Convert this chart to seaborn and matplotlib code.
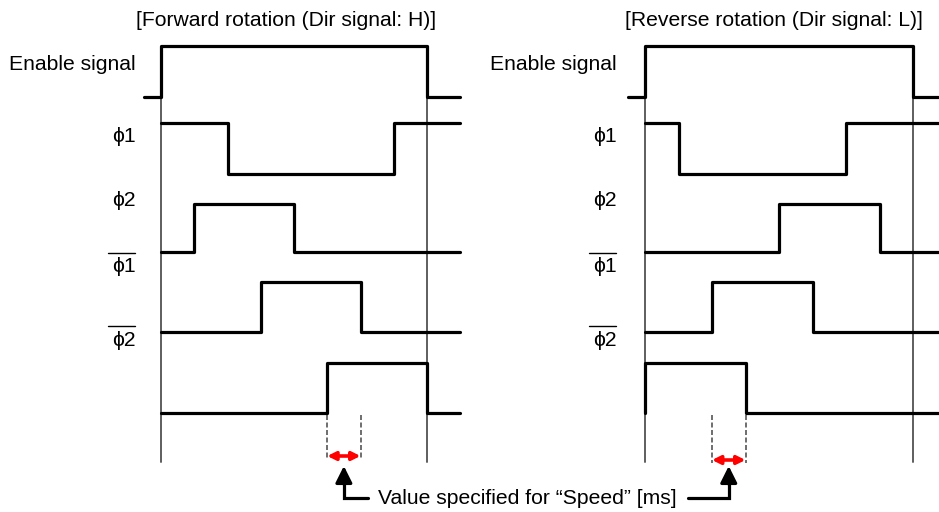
import seaborn as sns
import matplotlib.pyplot as plt

# timing data (time in steps, level 0 = low / 1 = high)
row_names = ["Enable signal", "\u03d51", "\u03d52", "\u03d51", "\u03d52"]
row_bar = [False, False, False, True, True]

fwd_title = "[Forward rotation (Dir signal: H)]"
fwd_t = [
    [-0.5, 0, 8, 9.0],
    [0, 2, 7, 9.0],
    [0, 1, 4, 9.0],
    [0, 3, 6, 9.0],
    [0, 5, 8, 9.0],
]
fwd_lvl = [
    [0, 1, 0, 0],
    [1, 0, 1, 1],
    [0, 1, 0, 0],
    [0, 1, 0, 0],
    [0, 1, 0, 0],
]
fwd_speed = [5, 6]

rev_title = "[Reverse rotation (Dir signal: L)]"
rev_t = [
    [-0.5, 0, 8, 8.8],
    [0, 1, 6, 8.8],
    [0, 4, 7, 8.8],
    [0, 2, 5, 8.8],
    [0, 0, 3, 8.8],
]
rev_lvl = [
    [0, 1, 0, 0],
    [1, 0, 1, 1],
    [0, 1, 0, 0],
    [0, 1, 0, 0],
    [0, 1, 0, 0],
]
rev_speed = [2, 3]

note = "Value specified for \u201cSpeed\u201d [ms]"

sns.set_style("white")
plt.rcParams['font.family'] = ['Liberation Sans', 'DejaVu Sans']
plt.rcParams['text.color'] = 'black'

W, H = 939, 512
fig = plt.figure(figsize=(W / 100, H / 100), dpi=100)

# layout (pixels)
row_low = [97, 174, 252, 332, 413]
row_amp = [51, 51, 48, 50, 50]
FS = 15.2


def panel(rect, xlim, ts, lvls, speed, arrow_from, red_y):
    ax = fig.add_axes(rect)
    ax.set_xlim(*xlim)
    ax.set_ylim(H, 0)
    ax.axis("off")
    for x0 in [0, 8]:
        ax.plot([x0, x0], [47, 462], color="#5e5e5e", lw=1.4, zorder=1)
    for i, (t, lv) in enumerate(zip(ts, lvls)):
        y = [row_low[i] - row_amp[i] * v for v in lv]
        sns.lineplot(x=t, y=y, ax=ax, drawstyle="steps-post", color="black",
                     lw=2.3, sort=False, estimator=None, zorder=3)
    for s in speed:
        ax.plot([s, s], [row_low[4] + 2, red_y + 3], color="#555555",
                lw=1.2, ls=(0, (3, 1.5)), zorder=2)
    ax.annotate("", xy=(speed[0], red_y), xytext=(speed[1], red_y),
                arrowprops=dict(arrowstyle="<|-|>", color="red", lw=2.6,
                                mutation_scale=12, shrinkA=0, shrinkB=0))
    mid = (speed[0] + speed[1]) / 2
    ax.plot([arrow_from, mid, mid], [498, 498, 480], color="black", lw=2.3,
            solid_joinstyle="miter")
    ax.annotate("", xy=(mid, 466), xytext=(mid, 484),
                arrowprops=dict(arrowstyle="-|>", color="black", lw=2.3,
                                mutation_scale=25, shrinkA=0, shrinkB=0))
    return ax


panel([0, 0, 470 / W, 1], (-161 / 33.25, 309 / 33.25), fwd_t, fwd_lvl,
      fwd_speed, 6.23, 456)
panel([470 / W, 0, 469 / W, 1], (-175 / 33.5, 294 / 33.5), rev_t, rev_lvl,
      rev_speed, 1.28, 460)

# text overlay in pixel coords
ov = fig.add_axes([0, 0, 1, 1])
ov.set_xlim(0, W)
ov.set_ylim(H, 0)
ov.axis("off")
ov.patch.set_alpha(0)

label_y = [65, 137, 200, 267, 340]
for title, cx, rx in [(fwd_title, 286, 136), (rev_title, 774, 617)]:
    ov.text(cx, 20, title, ha="center", va="center", fontsize=FS)
    for name, bar, y in zip(row_names, row_bar, label_y):
        ov.text(rx, y, name, ha="right", va="center", fontsize=FS)
        if bar:
            ov.plot([rx - 28, rx - 1], [y - 14, y - 14], color="black", lw=1)

ov.text(527, 498, note, ha="center", va="center", fontsize=FS)

fig.savefig("out.png", dpi=100)
